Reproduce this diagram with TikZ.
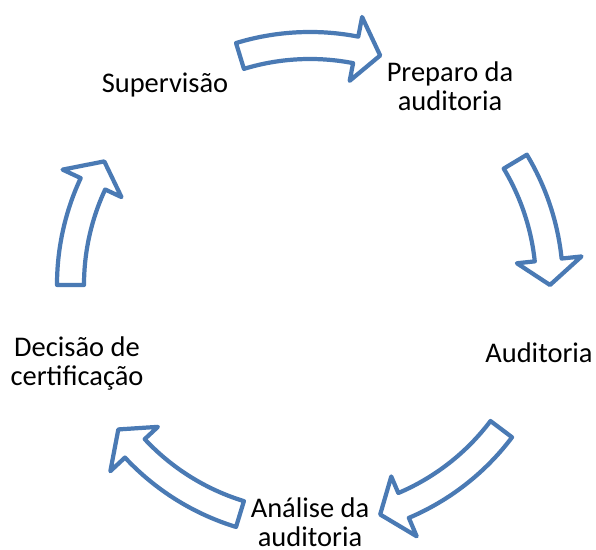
\documentclass[tikz,border=0pt]{standalone}
\usepackage{fontspec}
\setmainfont{Carlito}
\usetikzlibrary{calc}
\definecolor{arrowblue}{RGB}{74,122,180}
% curved block arrow: tail angle, tip angle
\NewDocumentCommand\cyclearrow{mm}{%
  \draw[arrowshape] (#1:226) arc[start angle=#1,end angle=#2+6,radius=226]
    -- (#2+6:208) -- (#2:240) -- (#2+6:273) -- (#2+6:253)
    arc[start angle=#2+6,end angle=#1,radius=253] -- cycle;}

\begin{document}
\begin{tikzpicture}[x=0.02cm,y=-0.02cm,
    arrowshape/.style={draw=arrowblue,fill=white,line width=2.4pt,line join=round},
    stage/.style={font=\fontsize{16.2}{16.6}\selectfont,align=center,anchor=base,inner sep=0pt}]
    \useasboundingbox (0,0) rectangle (596,550);
    \node[stage] (sup) at (165,93) {Supervisão};
    \node[stage] (prep) at (450,111) {Preparo da\\auditoria};
    \node[stage] (aud) at (539,363) {Auditoria};
    \node[stage] (anal) at (310,547) {Análise da\\auditoria};
    \node[stage] (dec) at (77,386) {Decisão de\\certificação};
    \begin{scope}[shift={(310,285)},y=0.02cm]
        \cyclearrow{107}{73}
        \cyclearrow{31}{0}
        \cyclearrow{-37}{-73}
        \cyclearrow{-107}{-143}
        \cyclearrow{180}{149}
    \end{scope}
\end{tikzpicture}
\end{document}
